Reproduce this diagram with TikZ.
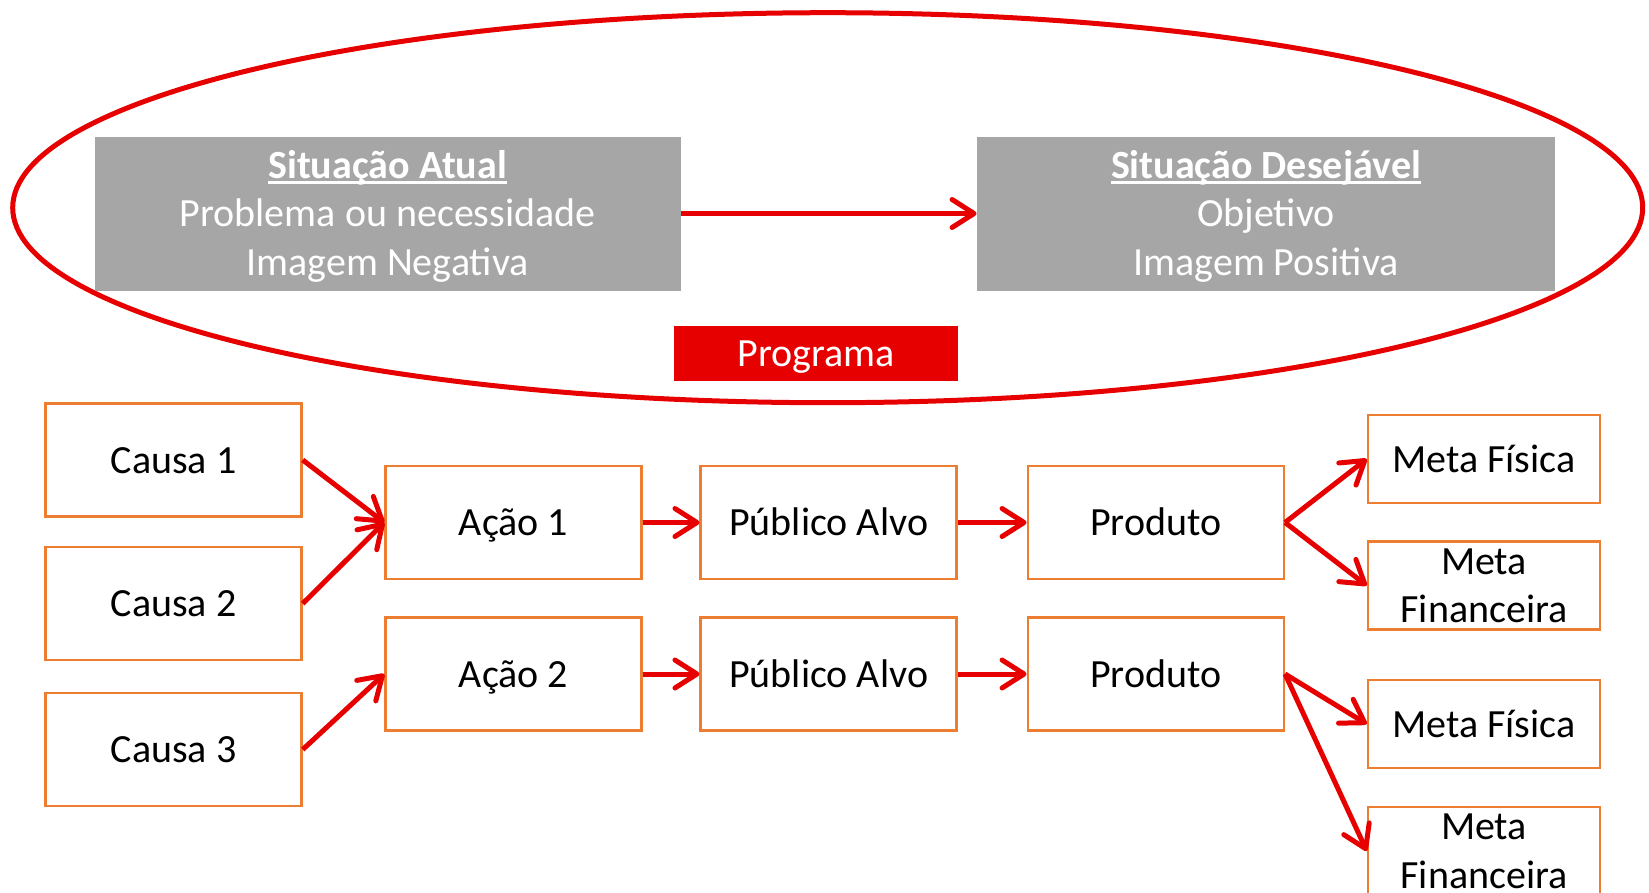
\documentclass[tikz,border=0pt]{standalone}
\usepackage{fontspec}
\setmainfont{Carlito}
\usetikzlibrary{arrows.meta}
\definecolor{vermelho}{RGB}{230,0,0}
\definecolor{laranja}{RGB}{237,125,49}
\definecolor{cinza}{RGB}{166,166,166}
\newcommand{\sublinha}[1]{\setbox0\hbox{#1}\rlap{\rule[-5.5pt]{\wd0}{2.5pt}}\box0}
% struts so that several lines sit like one line
\newcommand{\topo}[1][36]{\rule{0pt}{#1pt}}
\newcommand{\fundo}[1][10]{\rule[-#1pt]{0pt}{#1pt}}

\begin{document}
\begin{tikzpicture}[x=1pt,y=-1pt,
  every node/.style={font=\fontsize{40}{48.5}\selectfont},
  caixa/.style={draw=laranja,line width=2.5pt,minimum width=256pt,minimum height=113pt,align=center,inner sep=0pt},
  linha/.style={text height=36pt,text depth=10pt},
  meta/.style={caixa,minimum width=232pt,minimum height=88pt},
  situacao/.style={fill=cinza,text=white,minimum height=154pt,align=center,inner sep=0pt}]
\clip (0,0) rectangle (1649,892);
\draw[vermelho,line width=5pt] (827.7,207.7) ellipse [x radius=815,y radius=195];

   \node[situacao,minimum width=586pt] (atual) at (387.6,213.5) {\topo\sublinha{\textbf{Situação Atual}}\\Problema ou necessidade\\Imagem Negativa\fundo};
   \node[situacao,minimum width=578.5pt] (desejavel) at (1266,213.5) {\topo\sublinha{\textbf{Situação Desejável}}\\Objetivo\\Imagem Positiva\fundo};
   \node[linha,fill=vermelho,text=white,minimum width=284pt,minimum height=55pt,inner sep=0pt] (programa) at (816,353.4) {Programa};

   \node[caixa,linha] (causa1) at (173.5,460) {Causa 1};
   \node[caixa,linha] (causa2) at (173.5,603.5) {Causa 2};
   \node[caixa,linha] (causa3) at (173.5,749.5) {Causa 3};
   \node[caixa,linha] (acao1) at (513.5,522.5) {Ação 1};
   \node[caixa,linha] (acao2) at (513.5,674) {Ação 2};
   \node[caixa,linha] (publico1) at (828.7,522.5) {Público Alvo};
   \node[caixa,linha] (publico2) at (828.7,674) {Público Alvo};
   \node[caixa,linha] (produto1) at (1155.8,522.5) {Produto};
   \node[caixa,linha] (produto2) at (1155.8,674) {Produto};
   \node[meta,linha] (fisica1) at (1484,459) {Meta Física};
   \node[meta] (financeira1) at (1484,585.5) {\topo[32]Meta\\Financeira\fundo[6]};
   \node[meta,linha] (fisica2) at (1484,724) {Meta Física};
   \node[meta] (financeira2) at (1484,851) {\topo[32]Meta\\Financeira\fundo[6]};

\begin{scope}[vermelho,line width=5pt,-{Straight Barb[length=22pt,width=28pt,round]}]
   \draw (atual.east) -- (desejavel.west);
   \draw (causa1.east) -- (acao1.west);
   \draw (causa2.east) -- (acao1.west);
   \draw (causa3.east) -- (acao2.west);
   \draw (acao1) -- (publico1);
   \draw (acao2) -- (publico2);
   \draw (publico1) -- (produto1);
   \draw (publico2) -- (produto2);
   \draw (produto1.east) -- (fisica1.west);
   \draw (produto1.east) -- (financeira1.west);
   \draw (produto2.east) -- (fisica2.west);
   \draw (produto2.east) -- (financeira2.west);
\end{scope}
\end{tikzpicture}
\end{document}
